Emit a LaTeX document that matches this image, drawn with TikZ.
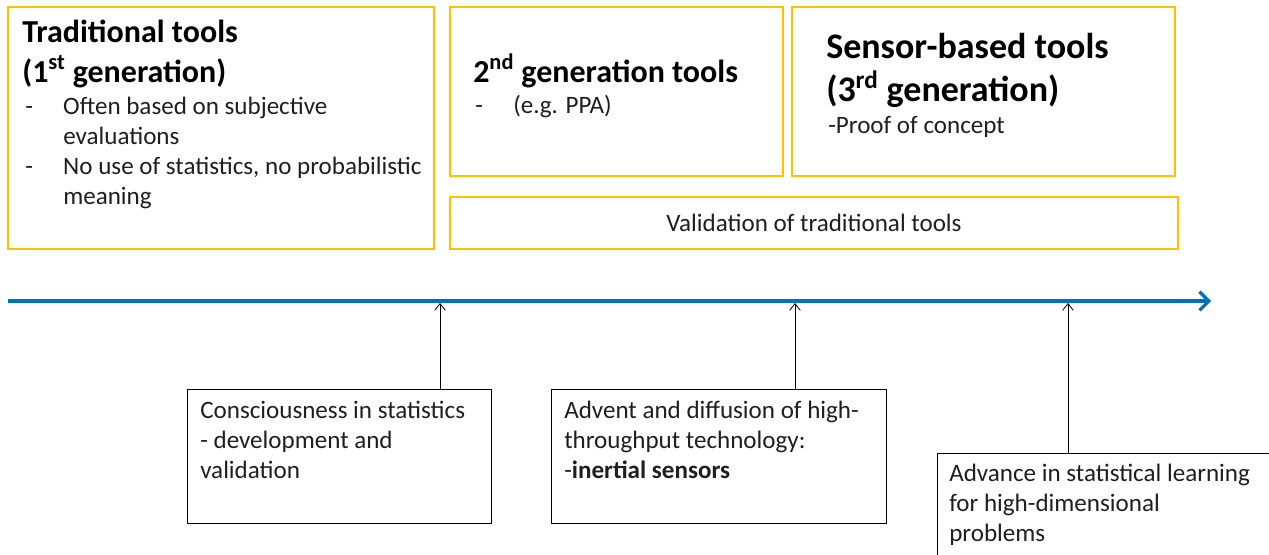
\documentclass[tikz,border=0pt]{standalone}
\usepackage{fontspec}
\setmainfont{Carlito}
\usetikzlibrary{arrows.meta,positioning}
\definecolor{gold}{RGB}{255,192,0}
\definecolor{axisblue}{RGB}{0,112,192}
\newcommand{\bodyfont}{\fontsize{18.8}{22.5}\selectfont}
\newcommand{\headfont}{\fontsize{24}{30}\selectfont\bfseries}
\newcommand{\bigheadfont}{\fontsize{27}{32}\selectfont\bfseries}
\newcommand{\itemdash}{\makebox[28.5pt][l]{-}}
\newcommand{\itemhang}{\hspace*{28.5pt}}
\begin{document}
\begin{tikzpicture}[x=0.75pt,y=-0.75pt,
  goldbox/.style={draw=gold,line width=1.8pt,anchor=north west,inner sep=0pt,outer sep=0pt},
  blackbox/.style={draw=black,line width=0.75pt,anchor=north west,inner sep=0pt,outer sep=0pt},
  txt/.style={anchor=base west,inner sep=0pt,align=left,font=\bodyfont,text=black!88},
  timeline/.style={draw=axisblue,line width=3pt,-{Straight Barb[length=7pt,width=14pt,line width=2.4pt]}},
  event/.style={draw=black,line width=0.6pt,-{Straight Barb[length=5pt,width=8pt]}}]
  \useasboundingbox (0,0) rectangle (1269,554);
  \clip (0,0) rectangle (1269,554);

  % generations of tools (text nodes sit on the baseline of their last line)
  \node[goldbox,minimum width=319.5pt,minimum height=181.5pt] (trad) at (8,7) {};
  \node[txt,font=\headfont,text=black] (tradhead) at (22,82) {Traditional tools\\(1\textsuperscript{st} generation)};
  \node[txt] (traditems) at (25,204) {\itemdash Often based on subjective\\\itemhang evaluations\\
    \itemdash No use of statistics, no probabilistic\\\itemhang meaning};

  \node[goldbox,minimum width=249.75pt,minimum height=126.75pt] (second) at (450,7) {};
  \node[txt,font=\headfont,text=black] (secondhead) at (473,82) {2\textsuperscript{nd} generation tools};
  \node[txt] (seconditems) at (475,113) {\itemdash(e.g. PPA)};

  \node[goldbox,minimum width=287.25pt,minimum height=126.75pt] (sensor) at (792,7) {};
  \node[txt,font=\bigheadfont,text=black] (sensorhead) at (826,101) {Sensor-based tools\\(3\textsuperscript{rd} generation)};
  \node[txt] (sensoritems) at (828,133) {-Proof of concept};

  \node[goldbox,minimum width=546pt,minimum height=39pt,font=\bodyfont,text=black!88] (valid) at (450,197) {Validation of traditional tools};

  % time line
  \coordinate (start) at (8,301);
  \coordinate (end) at (1211,301);
  \draw[timeline] (start) -- (end);
  \coordinate (t1) at (440,303);
  \coordinate (t2) at (795,303);
  \coordinate (t3) at (1068,303);

  % events
  \node[blackbox,minimum width=228pt,minimum height=100.5pt] (consc) at (187,389) {};
  \node[txt] (consctext) at (200,478) {Consciousness in statistics\\- development and\\validation};
  \node[blackbox,minimum width=251.25pt,minimum height=100.5pt] (advent) at (551,389) {};
  \node[txt] (adventtext) at (564,478) {Advent and diffusion of high-\\throughput technology:\\-\textbf{inertial sensors}};
  \node[blackbox,minimum width=251.25pt,minimum height=78.75pt] (learn) at (937,453) {};
  \node[txt] (learntext) at (949,541) {Advance in statistical learning\\for high-dimensional\\problems};

  \draw[event] (t1 |- consc.north) -- (t1);
  \draw[event] (t2 |- advent.north) -- (t2);
  \draw[event] (t3 |- learn.north) -- (t3);
\end{tikzpicture}
\end{document}
